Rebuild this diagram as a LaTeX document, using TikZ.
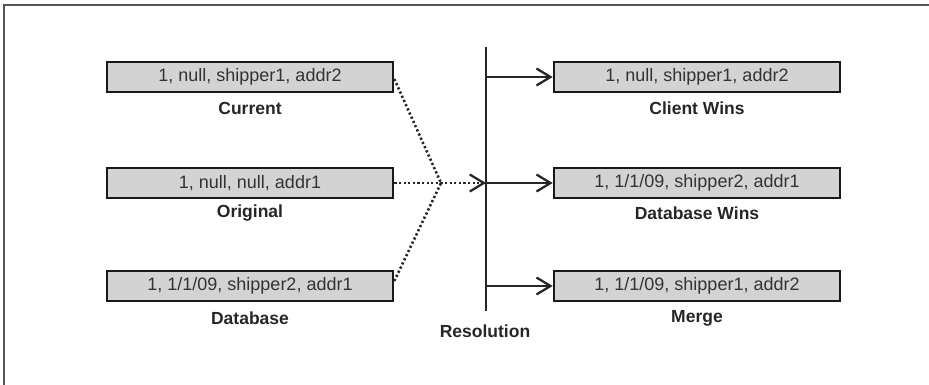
\documentclass[tikz,border=0pt]{standalone}
\usepackage{fontspec}
\setmainfont{Liberation Sans}
\usetikzlibrary{arrows.meta}
\definecolor{boxfill}{HTML}{D3D3D3}
\definecolor{txtgray}{HTML}{333333}
\definecolor{framegray}{HTML}{555555}
\tikzset{
  recbox/.style={draw=black!90, line width=2.6pt, fill=boxfill, minimum width=286pt, minimum height=30pt, inner sep=0pt, text=txtgray, font=\fontsize{18}{20}\selectfont},
  caption/.style={font=\fontsize{17.5}{20}\selectfont\bfseries, text=black!85, inner sep=0pt},
  arr/.style={line width=2.3pt, draw=black!85, -{Straight Barb[length=14pt, width=17pt, line width=2.3pt]}},
  dots/.style={line width=2.6pt, draw=black!85, dash pattern=on 2.2pt off 2.4pt},
  vline/.style={line width=2.8pt, draw=black!85}
}
\begin{document}
\begin{tikzpicture}[x=1pt,y=-1pt]
\useasboundingbox (0,0) rectangle (929,385);
% frame
\draw[framegray, line width=2pt] (4,385) -- (4,5) -- (929,5);
% left boxes
\node[recbox] (cur) at (250,77) {1, null, shipper1, addr2};
\node[caption] (curl) at (250,108) {Current};
\node[recbox] (orig) at (250,183) {1, null, null, addr1};
\node[caption] (origl) at (250,213) {Original};
\node[recbox] (db) at (250,286) {1, 1/1/09, shipper2, addr1};
\node[caption] (dbl) at (250,318) {Database};
% right boxes
\node[recbox] (cw) at (697,77) {1, null, shipper1, addr2};
\node[caption] (cwl) at (697,108) {Client Wins};
\node[recbox] (dw) at (697,183) {1, 1/1/09, shipper2, addr1};
\node[caption] (dwl) at (697,213) {Database Wins};
\node[recbox] (mg) at (697,286) {1, 1/1/09, shipper1, addr2};
\node[caption] (mgl) at (697,318) {Merge};
% resolution line
\coordinate (rtop) at (486,47);
\coordinate (rbot) at (486,311);
\coordinate (j1) at (486,77);
\coordinate (j2) at (486,183);
\coordinate (j3) at (486,286);
\coordinate (conv) at (441,183);
\draw[vline] (rtop) -- (rbot);
\node[caption] (resl) at (485,331) {Resolution};
% dotted merges
\draw[dots] (cur.east) ++(0,2) -- (conv);
\draw[dots] (db.east) ++(0,-5) -- (conv);
\draw[dots, -{Straight Barb[length=14pt, width=17pt, line width=2.3pt]}] (orig.east) -- (j2);
% arrows
\draw[arr] (j1) -- (cw.west);
\draw[arr] (j2) -- (dw.west);
\draw[arr] (j3) -- (mg.west);
\end{tikzpicture}
\end{document}
